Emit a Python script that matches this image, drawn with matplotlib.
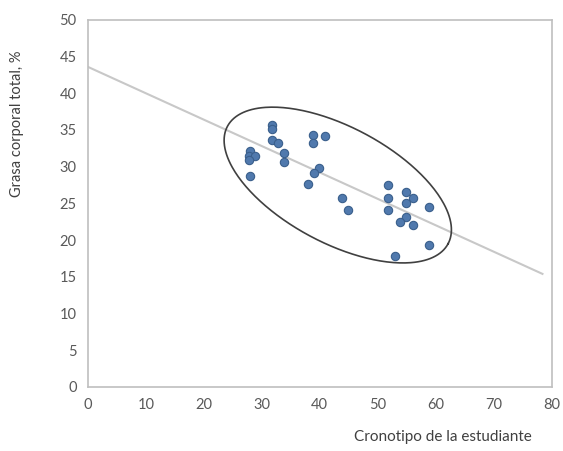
import numpy as np
import matplotlib.pyplot as plt

plt.rcParams['font.family'] = ['Lato', 'DejaVu Sans']

# Cronotipo vs grasa corporal
cronotipo = [31.8, 31.8, 31.8, 32.8, 27.9, 27.8, 28.8, 27.8, 27.9, 33.8, 33.8,
             38.8, 38.8, 40.9, 39.8, 39.0, 37.9, 43.9, 44.9,
             51.8, 51.8, 51.8, 54.9, 56.0, 54.9, 54.9, 53.8, 56.0, 58.8, 58.8, 52.9]
grasa = [35.7, 35.1, 33.7, 33.2, 32.2, 31.4, 31.4, 30.9, 28.7, 31.8, 30.7,
         34.3, 33.2, 34.2, 29.8, 29.2, 27.7, 25.7, 24.1,
         27.5, 25.8, 24.1, 26.6, 25.8, 25.0, 23.2, 22.5, 22.0, 24.5, 19.3, 17.9]

# linear trend line
trend_x = [0, 78.4]
trend_y = [43.6, 15.4]

fig = plt.figure(figsize=(5.63, 4.51), dpi=100)
ax = fig.add_axes([0.156, 0.142, 0.824, 0.814])

ax.plot(trend_x, trend_y, color='#c8c8c8', lw=1.5, zorder=1)
ax.scatter(cronotipo, grasa, s=36, color='#5079ad', edgecolor='#3a5f8c',
           linewidth=0.8, zorder=3)

# hand-drawn ellipse around the cloud
t = np.linspace(0, 2 * np.pi, 300)
cx, cy = 43.1, 27.5
ex = cx + 19.03 * np.cos(t) - 4.69 * np.sin(t)
ey = cy - 7.99 * np.cos(t) - 6.98 * np.sin(t)
ax.plot(ex, ey, color='#404040', lw=1.2, zorder=2)

ax.set_xlim(0, 80)
ax.set_ylim(0, 50)
ax.set_xticks(range(0, 81, 10))
ax.set_yticks(range(0, 51, 5))
ax.tick_params(length=0, labelsize=10.5, colors='#595959', pad=8)
for sp in ax.spines.values():
    sp.set_color('#bfbfbf')
    sp.set_linewidth(1.2)

fig.text(0.787, 0.03, 'Cronotipo de la estudiante', ha='center', va='center',
         fontsize=11, color='#404040')
fig.text(0.03, 0.725, 'Grasa corporal total, %', ha='center', va='center',
         rotation=90, fontsize=10.5, color='#404040')

fig.savefig('out.png', dpi=100)
